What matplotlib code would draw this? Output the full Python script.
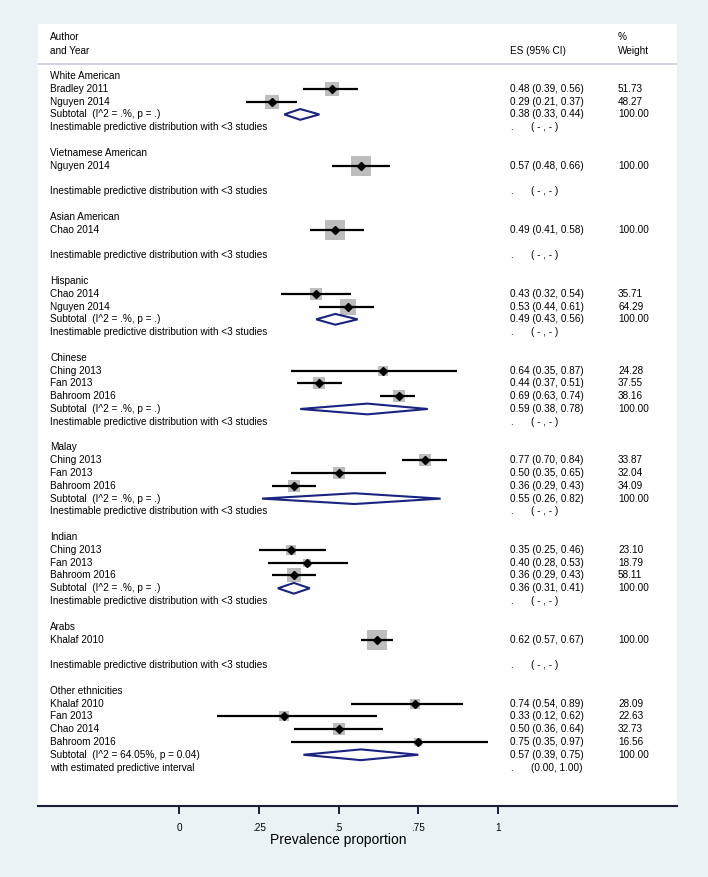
import matplotlib.pyplot as plt
from matplotlib.patches import Polygon

plt.rcParams['font.family'] = ['Liberation Sans', 'DejaVu Sans']

# subgroups
groups = ["White American", "Vietnamese American", "Asian American", "Hispanic",
          "Chinese", "Malay", "Indian", "Arabs", "Other ethnicities"]

study_names = [
    ["Bradley 2011", "Nguyen 2014"],
    ["Nguyen 2014"],
    ["Chao 2014"],
    ["Chao 2014", "Nguyen 2014"],
    ["Ching 2013", "Fan 2013", "Bahroom 2016"],
    ["Ching 2013", "Fan 2013", "Bahroom 2016"],
    ["Ching 2013", "Fan 2013", "Bahroom 2016"],
    ["Khalaf 2010"],
    ["Khalaf 2010", "Fan 2013", "Chao 2014", "Bahroom 2016"],
]
study_es = [[0.48, 0.29], [0.57], [0.49], [0.43, 0.53], [0.64, 0.44, 0.69],
            [0.77, 0.50, 0.36], [0.35, 0.40, 0.36], [0.62], [0.74, 0.33, 0.50, 0.75]]
study_lo = [[0.39, 0.21], [0.48], [0.41], [0.32, 0.44], [0.35, 0.37, 0.63],
            [0.70, 0.35, 0.29], [0.25, 0.28, 0.29], [0.57], [0.54, 0.12, 0.36, 0.35]]
study_hi = [[0.56, 0.37], [0.66], [0.58], [0.54, 0.61], [0.87, 0.51, 0.74],
            [0.84, 0.65, 0.43], [0.46, 0.53, 0.43], [0.67], [0.89, 0.62, 0.64, 0.97]]
study_wt = [[51.73, 48.27], [100.00], [100.00], [35.71, 64.29], [24.28, 37.55, 38.16],
            [33.87, 32.04, 34.09], [23.10, 18.79, 58.11], [100.00], [28.09, 22.63, 32.73, 16.56]]

# subtotals (None = single study, no pooling)
sub_es = [0.38, None, None, 0.49, 0.59, 0.55, 0.36, None, 0.57]
sub_lo = [0.33, None, None, 0.43, 0.38, 0.26, 0.31, None, 0.39]
sub_hi = [0.44, None, None, 0.56, 0.78, 0.82, 0.41, None, 0.75]
sub_het = ["(I^2 = .%, p = .)"] * 8 + ["(I^2 = 64.05%, p = 0.04)"]
pred_label = ["Inestimable predictive distribution with <3 studies"] * 8 + \
             ["with estimated predictive interval"]
pred_ci = ["( - , - )"] * 8 + ["(0.00, 1.00)"]

xticks = [0, 0.25, 0.5, 0.75, 1]
xtick_labels = ["0", ".25", ".5", ".75", "1"]

FS = 7.2
bg = '#eaf2f3'
navy = '#1a2380'

fig = plt.figure(figsize=(7.08, 8.77), dpi=100, facecolor=bg)
ax = fig.add_axes([38 / 708, 1 - 806 / 877, 639 / 708, 782 / 877])
ax.set_facecolor('white')
ax.set_xlim(-0.442, 1.561)
ax.set_ylim(57.0, -4.06)

tr = ax.get_yaxis_transform()  # x in axes fraction, y in data
x_lab, x_es, x_ci, x_wt = 0.0188, 0.7387, 0.7715, 0.9077

# header
ax.text(x_lab, -3.04, "Author", transform=tr, fontsize=FS, va='center')
ax.text(x_lab, -1.95, "and Year", transform=tr, fontsize=FS, va='center')
ax.text(x_es, -1.95, "ES (95% CI)", transform=tr, fontsize=FS, va='center')
ax.text(x_wt, -3.04, "%", transform=tr, fontsize=FS, va='center')
ax.text(x_wt, -1.95, "Weight", transform=tr, fontsize=FS, va='center')
ax.axhline(-0.9, color='#c8c8dc', lw=1.2)

row = 0
for g in range(len(groups)):
    ax.text(x_lab, row, groups[g], transform=tr, fontsize=FS, va='center')
    row += 1
    for k in range(len(study_names[g])):
        es, lo, hi, w = study_es[g][k], study_lo[g][k], study_hi[g][k], study_wt[g][k]
        ax.scatter(es, row, s=2.0 * w, marker='s', color='#bdbdbd', zorder=2, linewidths=0)
        ax.hlines(row, lo, hi, color='black', lw=1.6, zorder=3)
        ax.plot(es, row, marker='D', ms=3.6, color='black', zorder=4)
        ax.text(x_lab, row, study_names[g][k], transform=tr, fontsize=FS, va='center')
        ax.text(x_es, row, f"{es:.2f} ({lo:.2f}, {hi:.2f})", transform=tr, fontsize=FS, va='center')
        ax.text(x_wt, row, f"{w:.2f}", transform=tr, fontsize=FS, va='center')
        row += 1
    if sub_es[g] is not None:
        es, lo, hi = sub_es[g], sub_lo[g], sub_hi[g]
        h = 0.42
        ax.add_patch(Polygon([(lo, row), (es, row - h), (hi, row), (es, row + h)],
                             closed=True, facecolor='white', edgecolor=navy, lw=1.5, zorder=3))
        ax.text(x_lab, row, "Subtotal  " + sub_het[g], transform=tr, fontsize=FS, va='center')
        ax.text(x_es, row, f"{es:.2f} ({lo:.2f}, {hi:.2f})", transform=tr, fontsize=FS, va='center')
        ax.text(x_wt, row, "100.00", transform=tr, fontsize=FS, va='center')
    row += 1
    ax.text(x_lab, row, pred_label[g], transform=tr, fontsize=FS, va='center')
    ax.text(x_es, row, ".", transform=tr, fontsize=FS, va='center')
    ax.text(x_ci, row, pred_ci[g], transform=tr, fontsize=FS, va='center')
    row += 2

for s in ['top', 'left', 'right']:
    ax.spines[s].set_visible(False)
ax.spines['bottom'].set_color('#1c1c3c')
ax.spines['bottom'].set_linewidth(1.5)
ax.set_yticks([])
ax.set_xticks(xticks)
ax.set_xticklabels(xtick_labels)
ax.tick_params(axis='x', length=6, width=1.4, color='#1c1c3c', labelsize=FS, pad=6)
ax.set_xlabel("Prevalence proportion", fontsize=10)
ax.xaxis.set_label_coords((338 - 38) / 639, -0.034)

fig.savefig("out.png", dpi=100, facecolor=bg)
